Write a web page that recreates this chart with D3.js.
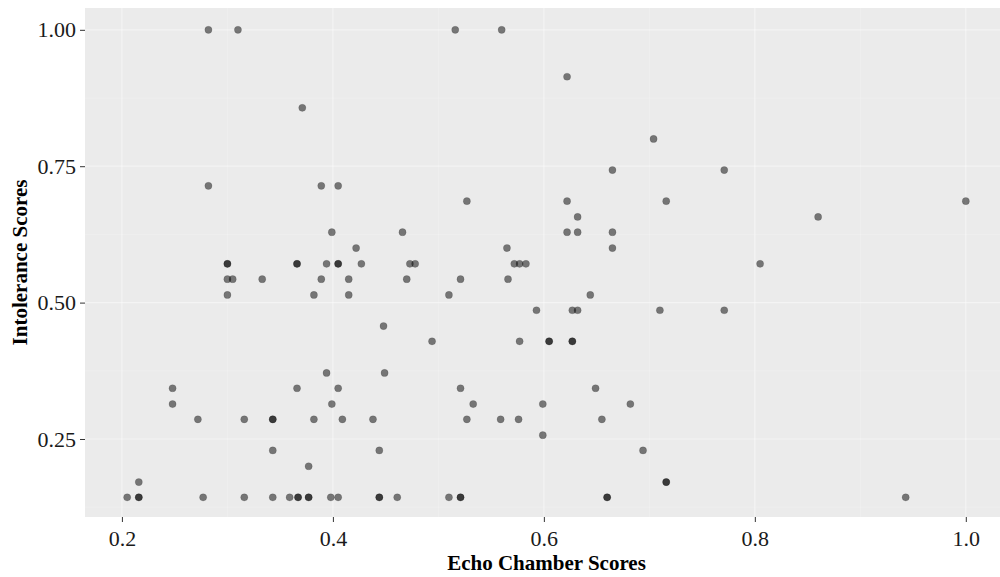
<!DOCTYPE html>
<html>
<head>
<meta charset="utf-8">
<script src="https://cdn.jsdelivr.net/npm/d3@7"></script>
<style>
  body { margin: 0; background: #fff; }
  .tick text { font-family: "Liberation Serif", "Times New Roman", serif; }
</style>
</head>
<body>
<div id="chart"></div>
<script>
// echo chamber scores (x) and intolerance scores (y)
var echoScores = [
  0.282, 0.310, 0.516, 0.560,
  0.622,
  0.371,
  0.704,
  0.665, 0.771,
  0.282, 0.389, 0.405,
  0.527, 0.622, 0.716, 1.000,
  0.632, 0.860,
  0.399, 0.466, 0.622, 0.632, 0.665,
  0.422, 0.565, 0.665,
  0.300, 0.300, 0.366, 0.366, 0.394, 0.405, 0.405, 0.427, 0.473, 0.478, 0.572, 0.577, 0.583, 0.805,
  0.300, 0.305, 0.333, 0.389, 0.415, 0.470, 0.521, 0.566,
  0.300, 0.382, 0.415, 0.510, 0.644,
  0.593, 0.627, 0.632, 0.710, 0.771,
  0.448,
  0.494, 0.577, 0.605, 0.605, 0.627, 0.627,
  0.394, 0.449,
  0.248, 0.366, 0.405, 0.521, 0.649,
  0.248, 0.399, 0.533, 0.599, 0.682,
  0.272, 0.316, 0.343, 0.343, 0.382, 0.409, 0.438, 0.527, 0.559, 0.576, 0.655,
  0.599,
  0.343, 0.444, 0.694,
  0.377,
  0.216, 0.716, 0.716,
  0.205, 0.216, 0.216, 0.277, 0.316, 0.343, 0.359, 0.367, 0.367, 0.377, 0.377,
  0.398, 0.405, 0.444, 0.444, 0.461, 0.510, 0.521, 0.521, 0.660, 0.660, 0.943
];
var intoleranceScores = [
  1.000, 1.000, 1.000, 1.000,
  0.914,
  0.857,
  0.800,
  0.743, 0.743,
  0.714, 0.714, 0.714,
  0.686, 0.686, 0.686, 0.686,
  0.657, 0.657,
  0.629, 0.629, 0.629, 0.629, 0.629,
  0.600, 0.600, 0.600,
  0.571, 0.571, 0.571, 0.571, 0.571, 0.571, 0.571, 0.571, 0.571, 0.571, 0.571, 0.571, 0.571, 0.571,
  0.543, 0.543, 0.543, 0.543, 0.543, 0.543, 0.543, 0.543,
  0.514, 0.514, 0.514, 0.514, 0.514,
  0.486, 0.486, 0.486, 0.486, 0.486,
  0.457,
  0.429, 0.429, 0.429, 0.429, 0.429, 0.429,
  0.371, 0.371,
  0.343, 0.343, 0.343, 0.343, 0.343,
  0.314, 0.314, 0.314, 0.314, 0.314,
  0.286, 0.286, 0.286, 0.286, 0.286, 0.286, 0.286, 0.286, 0.286, 0.286, 0.286,
  0.257,
  0.229, 0.229, 0.229,
  0.200,
  0.171, 0.171, 0.171,
  0.143, 0.143, 0.143, 0.143, 0.143, 0.143, 0.143, 0.143, 0.143, 0.143, 0.143,
  0.143, 0.143, 0.143, 0.143, 0.143, 0.143, 0.143, 0.143, 0.143, 0.143, 0.143
];
var xTicks = [0.2, 0.4, 0.6, 0.8, 1.0];
var yTicks = [0.25, 0.50, 0.75, 1.00];
var xMinor = [0.3, 0.5, 0.7, 0.9];
var yMinor = [0.125, 0.375, 0.625, 0.875];

var data = echoScores.map(function(d, i) { return { x: d, y: intoleranceScores[i] }; });

// dimensions and margins of the graph
var W = 1000, H = 577;
var margin = { top: 8, right: -8, bottom: 60, left: 85 },
    width = W - margin.left - margin.right,
    height = H - margin.top - margin.bottom;

var svg = d3.select("#chart")
  .append("svg")
  .attr("width", W)
  .attr("height", H);

var g = svg.append("g")
  .attr("transform", "translate(" + margin.left + "," + margin.top + ")");

var x = d3.scaleLinear().domain([0.165, 1.04]).range([0, width]);
var y = d3.scaleLinear().domain([0.107, 1.04]).range([height, 0]);

// panel background
g.append("rect")
  .attr("width", width)
  .attr("height", height)
  .attr("fill", "#ebebeb");

// grid lines (very faint in the original)
g.selectAll(".minorx").data(xMinor).enter().append("line")
  .attr("x1", function(d) { return x(d); }).attr("x2", function(d) { return x(d); })
  .attr("y1", 0).attr("y2", height)
  .attr("stroke", "#fff").attr("stroke-width", 0.6).attr("opacity", 0.35);
g.selectAll(".minory").data(yMinor).enter().append("line")
  .attr("y1", function(d) { return y(d); }).attr("y2", function(d) { return y(d); })
  .attr("x1", 0).attr("x2", width)
  .attr("stroke", "#fff").attr("stroke-width", 0.6).attr("opacity", 0.35);
g.selectAll(".majorx").data(xTicks).enter().append("line")
  .attr("x1", function(d) { return x(d); }).attr("x2", function(d) { return x(d); })
  .attr("y1", 0).attr("y2", height)
  .attr("stroke", "#fff").attr("stroke-width", 1.2).attr("opacity", 0.45);
g.selectAll(".majory").data(yTicks).enter().append("line")
  .attr("y1", function(d) { return y(d); }).attr("y2", function(d) { return y(d); })
  .attr("x1", 0).attr("x2", width)
  .attr("stroke", "#fff").attr("stroke-width", 1.2).attr("opacity", 0.45);

// points
g.selectAll("circle")
  .data(data)
  .enter()
  .append("circle")
  .attr("cx", function(d) { return x(d.x); })
  .attr("cy", function(d) { return y(d.y); })
  .attr("r", 3.6)
  .attr("fill", "#000")
  .attr("fill-opacity", 0.5)
  .attr("stroke", "#000")
  .attr("stroke-opacity", 0.15)
  .attr("stroke-width", 0.8);

// axes
var xAxis = g.append("g")
  .attr("transform", "translate(0," + height + ")")
  .call(d3.axisBottom(x).tickValues(xTicks).tickFormat(d3.format(".1f")).tickSize(5).tickPadding(8));
var yAxis = g.append("g")
  .call(d3.axisLeft(y).tickValues(yTicks).tickFormat(d3.format(".2f")).tickSize(5).tickPadding(4));

[xAxis, yAxis].forEach(function(a) {
  a.select(".domain").remove();
  a.selectAll(".tick line").attr("stroke", "#333");
  a.selectAll(".tick text").attr("fill", "#1a1a1a").style("font-size", "22px");
});

// axis labels
svg.append("text")
  .attr("x", margin.left + width / 2)
  .attr("y", 570)
  .attr("text-anchor", "middle")
  .style("font-family", "Liberation Serif, serif")
  .style("font-weight", "bold")
  .style("font-size", "21px")
  .text("Echo Chamber Scores");

svg.append("text")
  .attr("transform", "translate(27," + (margin.top + height / 2) + ") rotate(-90)")
  .attr("text-anchor", "middle")
  .style("font-family", "Liberation Serif, serif")
  .style("font-weight", "bold")
  .style("font-size", "21px")
  .text("Intolerance Scores");
</script>
</body>
</html>
